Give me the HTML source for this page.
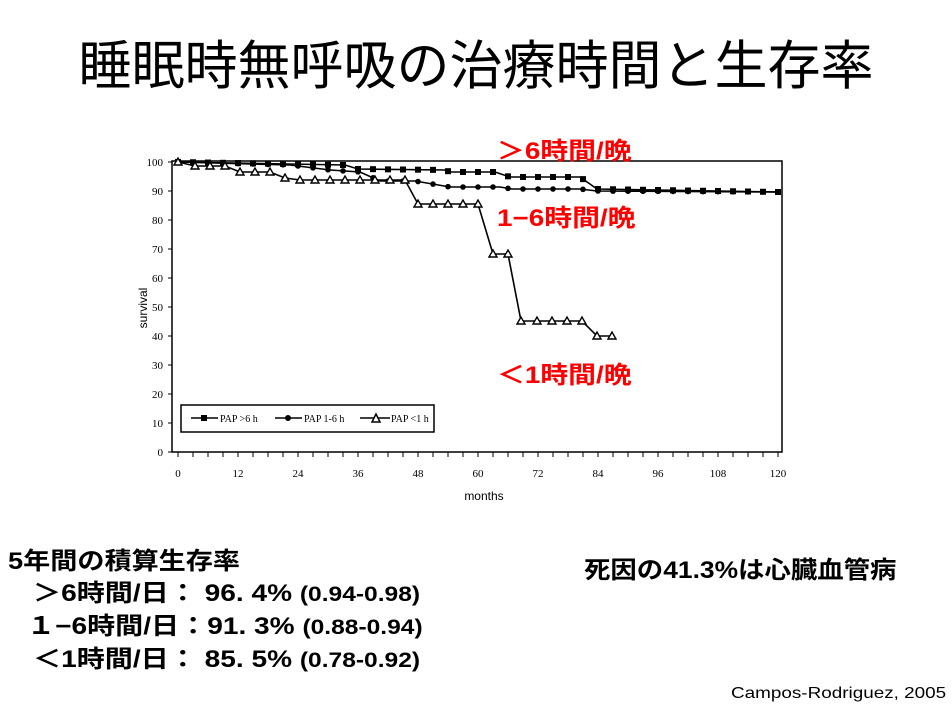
<!DOCTYPE html>
<html><head><meta charset="utf-8"><style>
body{margin:0;width:952px;height:713px;background:#fff;overflow:hidden;position:relative;font-family:"Liberation Sans","Noto Sans CJK JP",sans-serif}
.t{position:absolute;white-space:nowrap;transform-origin:0 0}
.r{color:#f00;font-weight:bold;font-size:24px;transform:scaleX(1.16)}
.b{font-weight:bold;font-size:24px;color:#000}
</style></head><body>
<div class="t" style="left:0;width:952px;text-align:center;top:24px;font-size:53px">睡眠時無呼吸の治療時間と生存率</div>
<svg id="s" width="952" height="713" style="position:absolute;left:0;top:0" font-family="Liberation Serif, serif" font-size="11">
<rect x="172" y="161" width="610" height="291" fill="none" stroke="#000" stroke-width="1.5"/>
<g id="ax"></g>
<text x="147" y="308" font-family="Liberation Sans, sans-serif" font-size="12" transform="rotate(-90 147 308)" text-anchor="middle">survival</text>
<text x="484" y="500" font-family="Liberation Sans, sans-serif" font-size="12" text-anchor="middle">months</text>
<rect x="181" y="405" width="253" height="27" fill="none" stroke="#000" stroke-width="1.5"/>
<line x1="191" y1="418" x2="218" y2="418" stroke="#000" stroke-width="1.5"/><rect x="201" y="415" width="6" height="6"/>
<text x="220" y="422" font-size="10">PAP &gt;6 h</text>
<line x1="275" y1="418" x2="302" y2="418" stroke="#000" stroke-width="1.5"/><circle cx="288" cy="418" r="3"/>
<text x="304" y="422" font-size="10">PAP 1-6 h</text>
<line x1="360" y1="418" x2="390" y2="418" stroke="#000" stroke-width="1.5"/><path d="M372 422L376 414L380 422Z" fill="#fff" stroke="#000" stroke-width="1.5"/>
<text x="391" y="422" font-size="10">PAP &lt;1 h</text>
<g id="ser"></g>
</svg>
<div class="t r" style="left:497px;top:131px">＞6時間/晩</div>
<div class="t r" style="left:497px;top:198px">1−6時間/晩</div>
<div class="t r" style="left:497px;top:355px">＜1時間/晩</div>
<div class="t b" style="left:8px;top:541px;transform:scaleX(1.13)">5年間の積算生存率</div>
<div class="t b" style="left:33px;top:573px;transform:scaleX(1.17)">＞6時間/日：  96. 4% <span style="font-size:21px">(0.94-0.98)</span></div>
<div class="t b" style="left:27px;top:606px;transform:scaleX(1.17)">１−6時間/日：91. 3% <span style="font-size:21px">(0.88-0.94)</span></div>
<div class="t b" style="left:33px;top:639px;transform:scaleX(1.17)">＜1時間/日：  85. 5% <span style="font-size:21px">(0.78-0.92)</span></div>
<div class="t b" style="left:584px;top:550px;transform:scaleX(1.10)">死因の41.3%は心臓血管病</div>
<div class="t" style="left:731px;top:685px;font-size:16px;transform:scaleX(1.18)">Campos-Rodriguez, 2005</div>
<script>
var NS="http://www.w3.org/2000/svg",ax=document.getElementById('ax'),ser=document.getElementById('ser');
function el(n,a,p){var e=document.createElementNS(NS,n);for(var k in a)e.setAttribute(k,a[k]);(p||ax).appendChild(e);return e;}
for(var v=0;v<=100;v+=10){var y=452-v*2.9;el('line',{x1:168,y1:y,x2:172,y2:y,stroke:'#000'});var t=el('text',{x:163,y:y+4,'text-anchor':'end'});t.textContent=v;}
for(var m=0;m<=120;m+=3){var x=178+m*5;el('line',{x1:x,y1:452,x2:x,y2:457,stroke:'#000'});if(m%12==0){var t=el('text',{x:x,y:477,'text-anchor':'middle'});t.textContent=m;}}
function series(pts,mk,xs){el('polyline',{points:pts.map(p=>p.join(',')).join(' '),fill:'none',stroke:'#000','stroke-width':1.6},ser);
 xs.forEach(function(x){var y=pts[0][1];for(var i=0;i<pts.length-1;i++){if(x>=pts[i][0]&&x<=pts[i+1][0]){y=pts[i][1]+(pts[i+1][1]-pts[i][1])*(x-pts[i][0])/(pts[i+1][0]-pts[i][0]||1);break;}}
 if(mk==0)el('rect',{x:x-3,y:y-3,width:6,height:6},ser);else if(mk==1)el('circle',{cx:x,cy:y,r:2.8},ser);else el('path',{d:'M'+(x-4)+' '+(y+3)+'L'+x+' '+(y-4)+'L'+(x+4)+' '+(y+3)+'Z',fill:'#fff',stroke:'#000','stroke-width':1.4},ser);});}
function rng(a,b,s){var r=[];for(var x=a;x<=b;x+=s)r.push(x);return r;}
series([[178,162],[345,165],[358,169],[445,170],[450,172],[495,172],[510,177],[580,177],[597,189],[778,192]],0,rng(178,778,15));
series([[178,162],[290,165],[330,170],[360,172],[380,181],[415,181],[450,187],[500,187],[512,189],[580,189],[597,191],[778,192]],1,rng(178,778,15));
series([[178,162],[195,166],[225,166],[240,172],[270,172],[285,178],[300,180],[405,180],[418,204],[478,204],[493,254],[508,254],[521,321],[582,321],[597,336],[612,336]],2,[178,195,210,225,240,255,270,285,300,315,330,345,360,375,390,405,418,433,448,463,478,493,508,521,537,552,567,582,597,612]);
</script>
</body></html>
